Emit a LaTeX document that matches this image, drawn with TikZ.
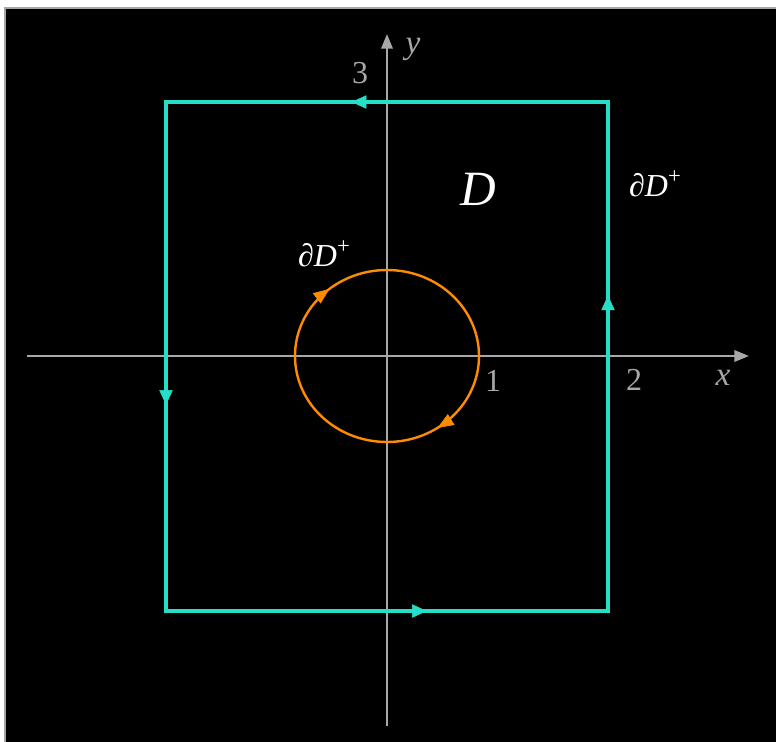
\documentclass[tikz,border=0pt]{standalone}
\usepackage{fontspec}
\setmainfont{Liberation Serif}
\usetikzlibrary{arrows.meta,decorations.markings}
\definecolor{bnd}{RGB}{36,222,200}
\definecolor{circ}{RGB}{255,140,0}
\definecolor{axg}{RGB}{168,168,168}
\tikzset{
  axis/.style={axg, line width=1.8pt, -{Triangle[length=11pt,width=8.5pt]}},
  bound/.style={bnd, line width=2.7pt},
  inner/.style={circ, line width=1.8pt},
  barrow/.style={postaction={decorate}, decoration={markings, mark=at position #1 with {\arrow[bnd]{Triangle[length=11pt,width=10pt]}}}},
  carrow/.style={postaction={decorate}, decoration={markings, mark=at position #1 with {\arrow[circ]{Triangle[length=12pt,width=9.5pt]}}}},
  numlab/.style={axg, font=\fontsize{24pt}{24pt}\selectfont, inner sep=0pt},
  whlab/.style={white, font=\fontsize{24pt}{24pt}\selectfont\itshape, inner sep=0pt}
}
\newcommand{\bdlab}{∂D\raisebox{0.42em}{\fontsize{17pt}{17pt}\selectfont\upshape +}}
\begin{document}
\begin{tikzpicture}[x=0.75pt,y=-0.75pt]
\fill[white] (0,0) rectangle (776,742);
\useasboundingbox (0,0) rectangle (776,742);
\fill[black] (5,8) rectangle (776,742);
\draw[gray!70, line width=0.8pt] (5,742) -- (5,8) -- (776,8);
% axes
\coordinate (xl) at (27,356);
\coordinate (xr) at (749,356);
\coordinate (yb) at (387,726);
\coordinate (yt) at (387,34);
\draw[axis] (xl) -- (xr);
\draw[axis] (yb) -- (yt);
% rectangle corners
\coordinate (tr) at (608,102);
\coordinate (tl) at (166,102);
\coordinate (bl) at (166,611);
\coordinate (br) at (608,611);
\draw[bound, line cap=rect] (tr) -- (tl) -- (bl) -- (br) -- cycle;
\path[barrow=0.58] (tr) -- (tl);
\path[barrow=0.595] (tl) -- (bl);
\path[barrow=0.59] (bl) -- (br);
\path[barrow=0.62] (br) -- (tr);
% circle
\coordinate (o) at (387,356);
\draw[inner] (o) ellipse [x radius=92, y radius=86];
\path[carrow=0.155] (o) ellipse [x radius=92, y radius=86];
\path[carrow=0.64] (o) ellipse [x radius=92, y radius=86];
% labels
\node[numlab] (l3) at (360,73) {3};
\node[numlab] (l1) at (493,381) {1};
\node[numlab] (l2) at (634,380) {2};
\node[numlab, font=\fontsize{25pt}{25pt}\selectfont\itshape] (lx) at (723,378) {x};
\node[numlab, font=\fontsize{25pt}{25pt}\selectfont\itshape] (ly) at (413,49) {y};
\node[white, inner sep=0pt, font=\fontsize{37pt}{37pt}\selectfont\itshape] (lD) at (478,189) {D};
\node[whlab] (lb1) at (655,184) {\bdlab};
\node[whlab] (lb2) at (324,254) {\bdlab};
\end{tikzpicture}
\end{document}
